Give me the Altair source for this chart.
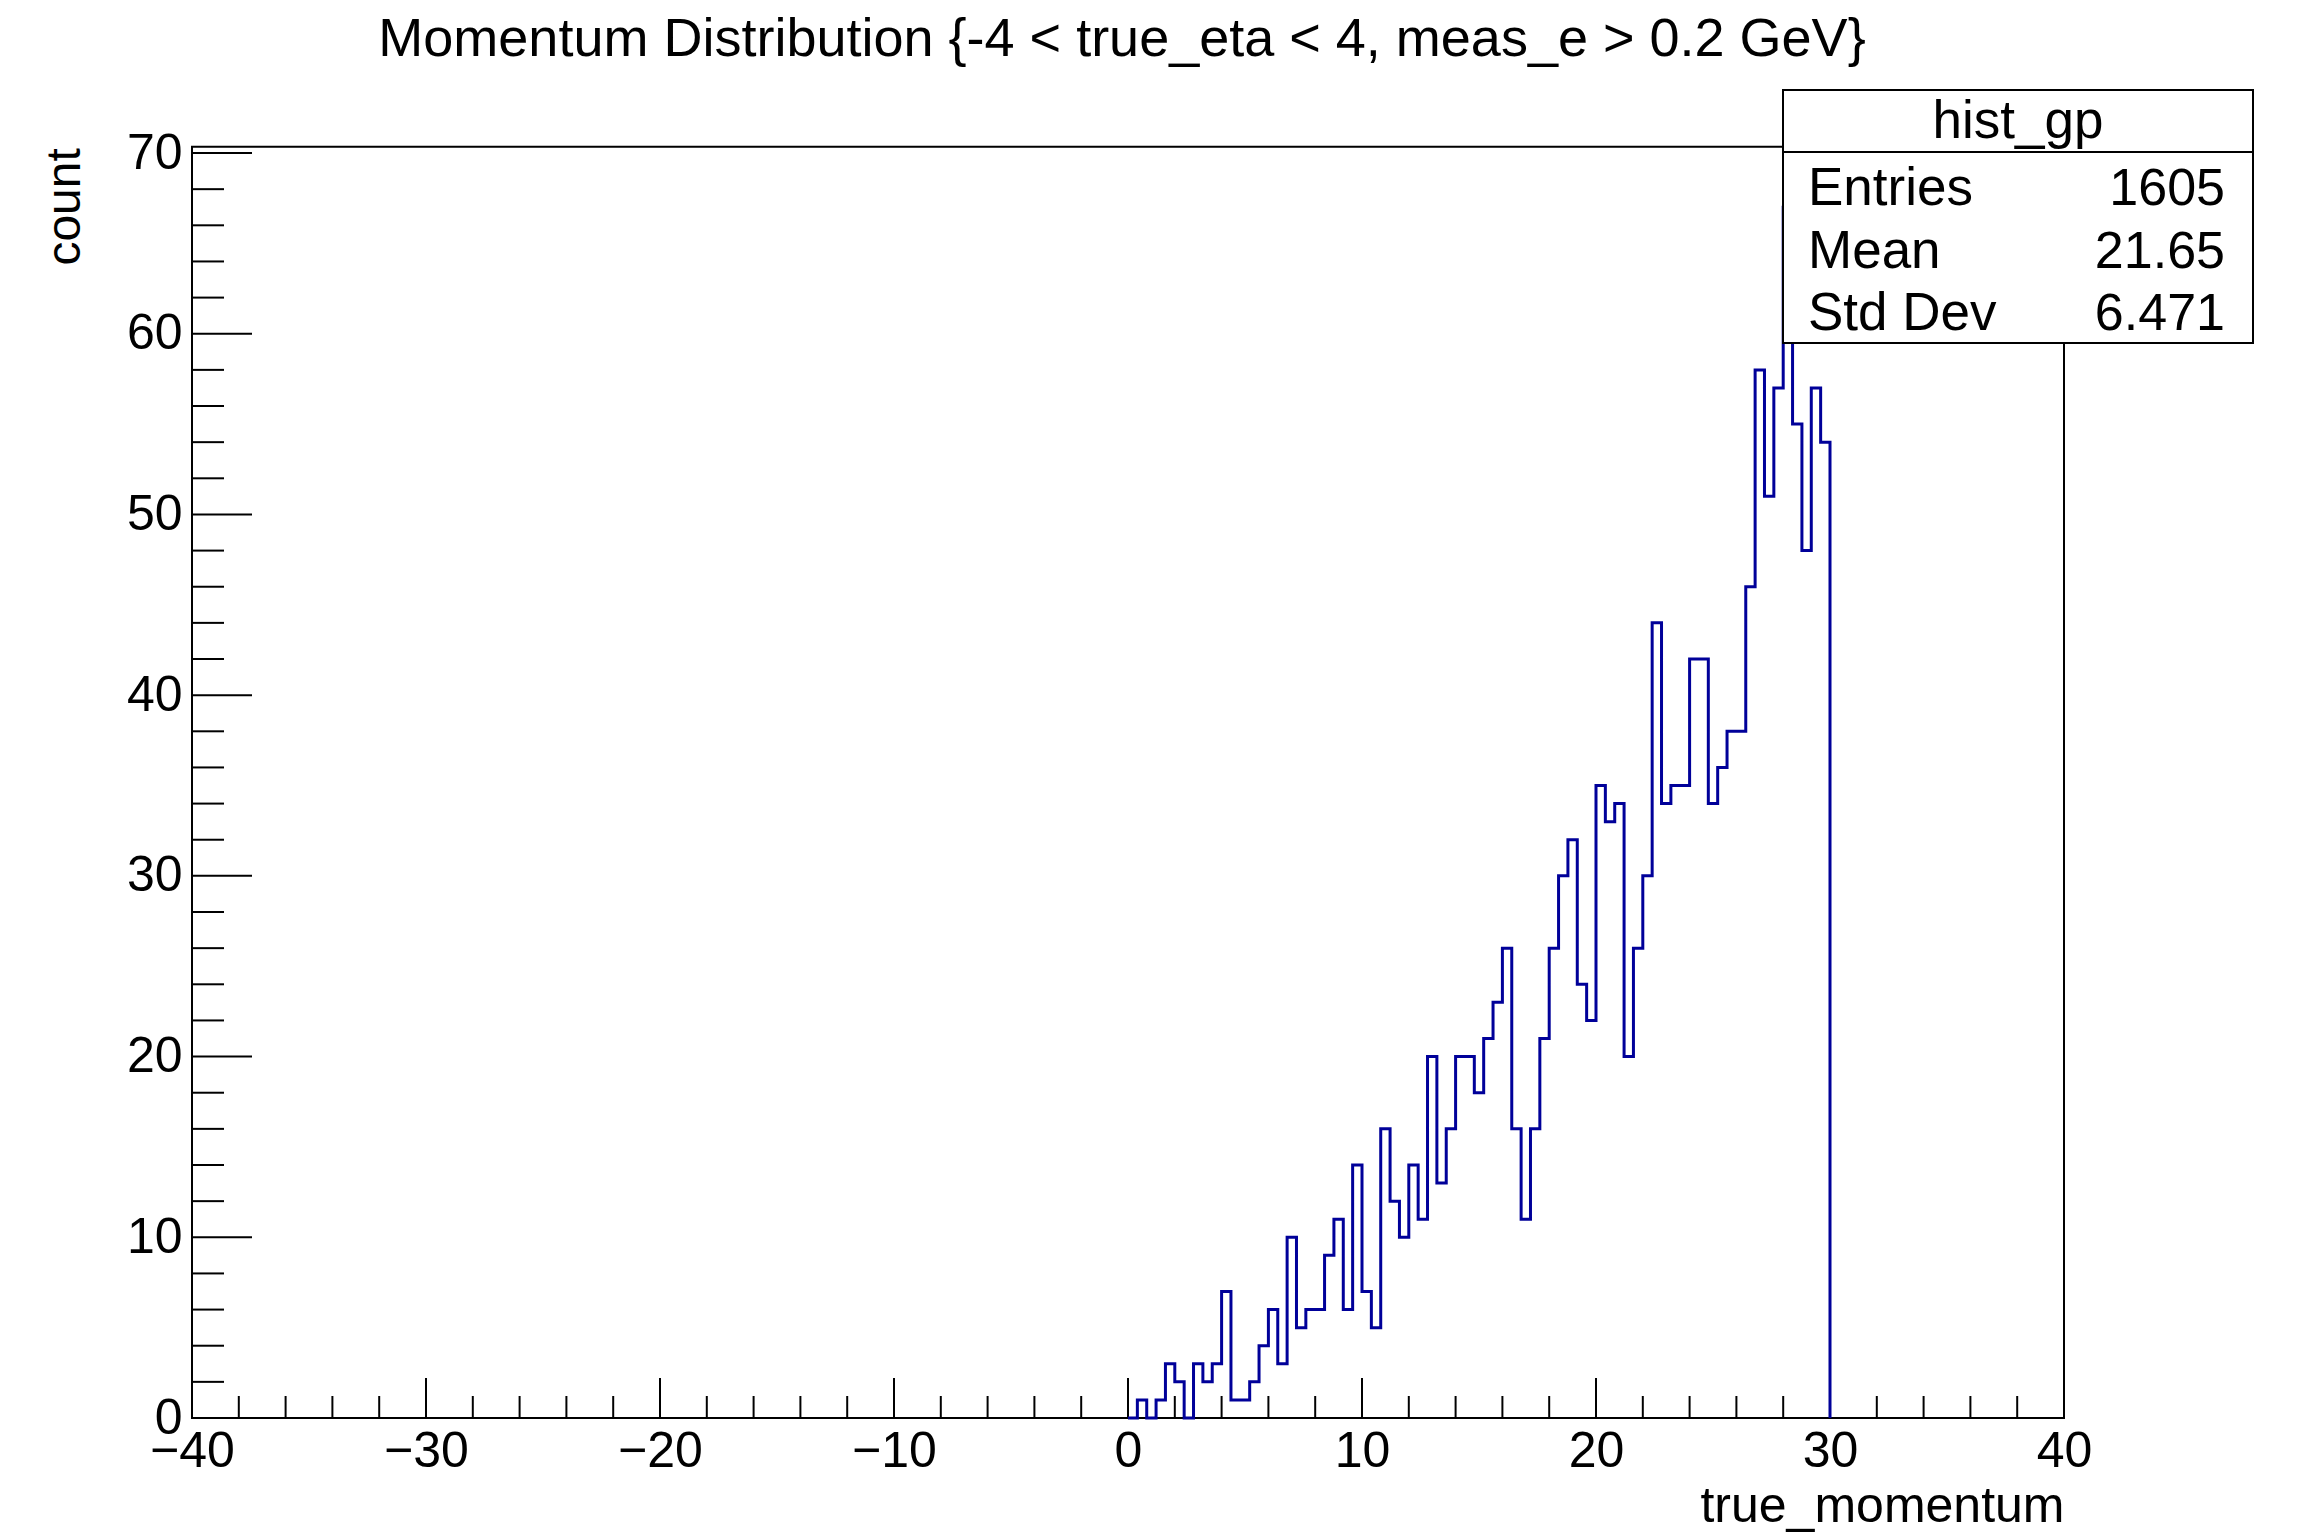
import altair as alt
import pandas as pd

# ---------------- data ----------------
title_text = "Momentum Distribution {-4 < true_eta < 4, meas_e > 0.2 GeV}"
x_title = "true_momentum"
y_title = "count"

bin_width = 0.4          # histogram bins start at 0
counts = [0, 1, 0, 1, 3, 2, 0, 3, 2, 3,
          7, 1, 1, 2, 4, 6, 3, 10, 5, 6,
          6, 9, 11, 6, 14, 7, 5, 16, 12, 10,
          14, 11, 20, 13, 16, 20, 20, 18, 21, 23,
          26, 16, 11, 16, 21, 26, 30, 32, 24, 22,
          35, 33, 34, 20, 26, 30, 44, 34, 35, 35,
          42, 42, 34, 36, 38, 38, 46, 58, 51, 57,
          67, 55, 48, 57, 54]

x_major = [-40, -30, -20, -10, 0, 10, 20, 30, 40]
x_minor = [-38, -36, -34, -32, -28, -26, -24, -22, -18, -16, -14, -12,
           -8, -6, -4, -2, 2, 4, 6, 8, 12, 14, 16, 18, 22, 24, 26, 28,
           32, 34, 36, 38]
y_major = [0, 10, 20, 30, 40, 50, 60, 70]
y_minor = [2, 4, 6, 8, 12, 14, 16, 18, 22, 24, 26, 28, 32, 34, 36, 38,
           42, 44, 46, 48, 52, 54, 56, 58, 62, 64, 66, 68]

stats_name = "hist_gp"
stats_labels = ["Entries", "Mean", "Std Dev"]
stats_values = ["1605", "21.65", "6.471"]

# ---------------- layout ----------------
W, H = 1872, 1271.3
FONT = "Liberation Sans"
LINE = "#000099"

edges = [round(i * bin_width, 1) for i in range(len(counts) + 1)]
hist_df = pd.DataFrame({"x": edges, "y": counts + [0]})

xs = alt.Scale(domain=[-40, 40], nice=False, zero=False)
ys = alt.Scale(domain=[0, 70.35], nice=False, zero=False)

x_axis = alt.Axis(values=x_major, ticks=False, domain=False, grid=False,
                  labelFont=FONT, labelFontSize=50, labelColor="black",
                  labelPadding=8, labelFlush=False, labelOverlap=False,
                  labelExpr="datum.value < 0 ? '\u2212' + abs(datum.value) : datum.value",
                  title=x_title, titleFont=FONT, titleFontSize=50,
                  titleFontWeight="normal", titleColor="black",
                  titleX=W, titleY=103, titleAlign="right",
                  titleBaseline="alphabetic")
y_axis = alt.Axis(values=y_major, ticks=False, domain=False, grid=False,
                  labelFont=FONT, labelFontSize=50, labelColor="black",
                  labelPadding=10, labelFlush=False, labelOverlap=False,
                  title=y_title, titleFont=FONT, titleFontSize=48,
                  titleFontWeight="normal", titleColor="black",
                  titleAngle=270, titleX=-113, titleY=1, titleAlign="right",
                  titleBaseline="alphabetic")

hist = alt.Chart(hist_df).mark_line(
    interpolate="step-after", color=LINE, strokeWidth=3
).encode(
    x=alt.X("x:Q", scale=xs, axis=x_axis),
    y=alt.Y("y:Q", scale=ys, axis=y_axis),
)

def xticks(vals, length):
    return alt.Chart(pd.DataFrame({"x": vals})).mark_rule(
        color="black", strokeWidth=2
    ).encode(x=alt.X("x:Q", scale=xs, axis=x_axis),
             y=alt.value(H), y2=alt.value(H - length))

def yticks(vals, length):
    return alt.Chart(pd.DataFrame({"y": vals})).mark_rule(
        color="black", strokeWidth=2
    ).encode(y=alt.Y("y:Q", scale=ys, axis=y_axis),
             x=alt.value(0), x2=alt.value(length))

one = pd.DataFrame({"a": [0]})
box_x1, box_x2 = 1591, 2061
box = alt.Chart(one).mark_rect(
    fill="white", stroke="black", strokeWidth=2
).encode(x=alt.value(box_x1), x2=alt.value(box_x2),
         y=alt.value(-56.7), y2=alt.value(196.3))
divider = alt.Chart(one).mark_rule(color="black", strokeWidth=2).encode(
    x=alt.value(box_x1), x2=alt.value(box_x2), y=alt.value(5.3))

name_text = alt.Chart(pd.DataFrame({"t": [stats_name]})).mark_text(
    font=FONT, fontSize=53, color="black", align="center", baseline="alphabetic"
).encode(x=alt.value((box_x1 + box_x2) / 2), y=alt.value(-8.7), text="t:N")

row_base = [58.3, 121.3, 183.3]
rows = []
for lab, val, yb in zip(stats_labels, stats_values, row_base):
    rows.append(alt.Chart(pd.DataFrame({"t": [lab]})).mark_text(
        font=FONT, fontSize=53, color="black", align="left", baseline="alphabetic"
    ).encode(x=alt.value(1616), y=alt.value(yb), text="t:N"))
    rows.append(alt.Chart(pd.DataFrame({"t": [val]})).mark_text(
        font=FONT, fontSize=52, color="black", align="right", baseline="alphabetic"
    ).encode(x=alt.value(2033), y=alt.value(yb), text="t:N"))

chart = alt.layer(
    xticks(x_major, 40), xticks(x_minor, 22),
    yticks(y_major, 60), yticks(y_minor, 32),
    hist, box, divider, name_text, *rows
).properties(
    width=W, height=H,
    autosize=alt.AutoSizeParams(type="none"),
    padding={"left": 184, "top": 138.7, "right": 200, "bottom": 130},
    title=alt.TitleParams(title_text, font=FONT, fontSize=54, fontWeight="normal",
                          color="black", anchor="middle", dx=-6, dy=56, offset=35,
                          baseline="alphabetic"),
    background="white",
).configure_view(stroke="black", strokeWidth=2)

chart.save("out.html", embed_options={"renderer": "svg", "actions": False})
